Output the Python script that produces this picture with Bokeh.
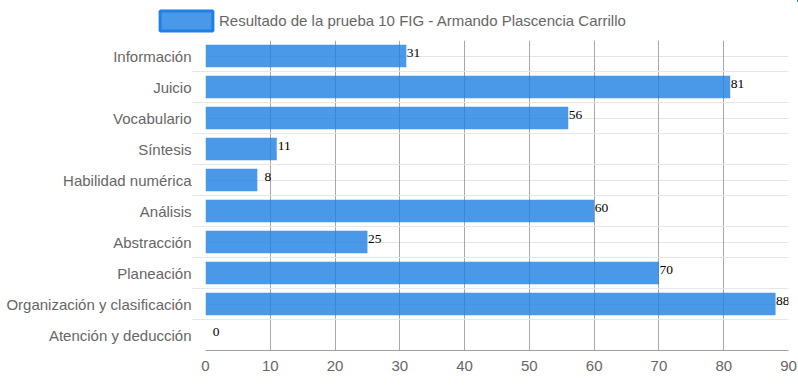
from bokeh.plotting import figure
from bokeh.layouts import column
from bokeh.models import (ColumnDataSource, Range1d, LinearAxis, FixedTicker, Grid,
                          LabelSet, Legend, LegendItem)
from bokeh.embed import file_html
from bokeh.resources import INLINE

categories = ["Información", "Juicio", "Vocabulario", "Síntesis", "Habilidad numérica",
              "Análisis", "Abstracción", "Planeación", "Organización y clasificación",
              "Atención y deducción"]
values = [31, 81, 56, 11, 8, 60, 25, 70, 88, 0]
series_name = "Resultado de la prueba 10 FIG - Armando Plascencia Carrillo"
x_ticks = [0, 10, 20, 30, 40, 50, 60, 70, 80, 90]

FONT = "Liberation Sans"
GRAY_TXT = "#666666"
BAR_COLOR = "#1d7ee2"

idx = list(range(len(categories)))
source = ColumnDataSource(dict(idx=idx, value=values, label=[str(v) for v in values]))

# ---- legend strip (its swatch renderer shares the data but its ranges keep it out of view) ----
leg = figure(width=798, height=40, output_backend="svg", toolbar_location=None,
             x_range=Range1d(-2, -1), y_range=Range1d(-2, -1),
             x_axis_location=None, y_axis_location=None,
             min_border_left=0, min_border_right=0, min_border_top=0, min_border_bottom=0)
leg.frame_align = False
leg.outline_line_color = None
leg.xgrid.visible = False
leg.ygrid.visible = False
swatch = leg.hbar(y="idx", right="value", left=0, height=0.72, source=source,
                  fill_color=BAR_COLOR, fill_alpha=0.8, line_color="#1e80e4", line_width=3)
legend = Legend(items=[LegendItem(label=series_name, renderers=[swatch])],
                location=(153, 7.5), orientation="horizontal",
                glyph_width=66, glyph_height=25, label_standoff=0, padding=0, margin=0,
                border_line_color=None, background_fill_alpha=0,
                label_text_font=FONT, label_text_font_size="15px", label_text_color=GRAY_TXT)
leg.add_layout(legend, "center")

# ---- main chart ----
p = figure(width=798, height=345, output_backend="svg", toolbar_location=None,
           x_range=Range1d(0, 90), y_range=Range1d(len(categories) - 0.5, -0.5),
           x_axis_location=None, y_axis_location=None,
           min_border_left=205, min_border_right=10, min_border_top=0, min_border_bottom=35)
p.frame_align = False
p.outline_line_color = None
p.background_fill_color = "white"

bounds = [i + 0.5 for i in idx[:-1]]

tick_axis = LinearAxis(ticker=FixedTicker(ticks=bounds), major_tick_out=13, major_tick_in=0,
                       major_tick_line_color="#e6e6e6", axis_line_color=None,
                       minor_tick_line_color=None, major_label_text_font_size="0px",
                       major_label_text_alpha=0, major_label_standoff=0)
p.add_layout(tick_axis, "left")

label_axis = LinearAxis(ticker=FixedTicker(ticks=idx), major_tick_out=0, major_tick_in=0,
                        major_tick_line_color=None, axis_line_color=None,
                        minor_tick_line_color=None, major_label_standoff=1,
                        major_label_overrides={i: c for i, c in zip(idx, categories)},
                        major_label_text_font=FONT, major_label_text_font_size="15px",
                        major_label_text_color=GRAY_TXT)
p.add_layout(label_axis, "left")

xaxis = LinearAxis(ticker=FixedTicker(ticks=x_ticks), major_tick_out=0, major_tick_in=0,
                   minor_tick_line_color=None, axis_line_color="#a0a0a0",
                   major_label_standoff=10, major_label_text_font=FONT,
                   major_label_text_font_size="15px", major_label_text_color=GRAY_TXT)
p.add_layout(xaxis, "below")

p.add_layout(Grid(dimension=0, ticker=FixedTicker(ticks=x_ticks), grid_line_color="#a8a8a8"))
p.add_layout(Grid(dimension=1, ticker=FixedTicker(ticks=bounds), grid_line_color="#e6e6e6"))

bars = p.hbar(y="idx", right="value", left=0, height=0.72, source=source,
              fill_color=BAR_COLOR, fill_alpha=0.8, line_color=None)

labels = LabelSet(x="value", y="idx", text="label", source=source, x_offset=14, y_offset=-1,
                  text_align="right", text_baseline="alphabetic",
                  text_font="Liberation Serif", text_font_size="13.5px", text_color="black")
p.add_layout(labels)

layout = column(leg, p, spacing=0)
open("out.html", "w").write(file_html(layout, INLINE))
